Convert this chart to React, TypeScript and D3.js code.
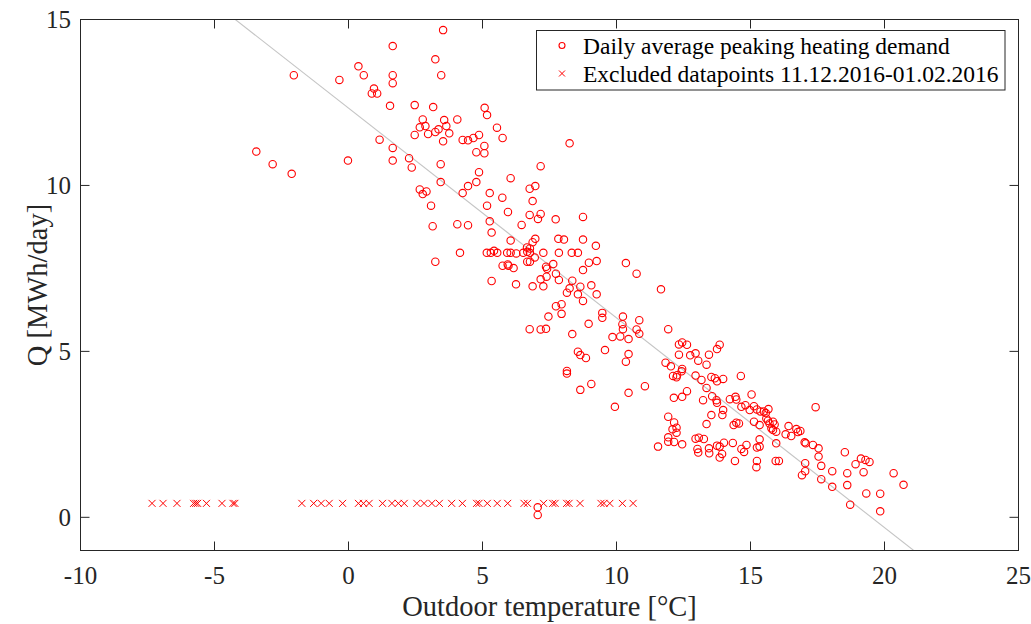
import React from "react";
import * as d3 from "d3";

// Daily average peaking heating demand: [outdoor temperature °C, Q MWh/day]
const peakDemand: [number, number][] = [
  [3.53, 14.68], [1.65, 14.2], [3.24, 13.8], [0.37, 13.59], [-2.04, 13.32], [-0.34, 13.18],
  [0.57, 13.32], [1.65, 13.32], [3.46, 13.32], [1.65, 13.08], [0.95, 12.92], [0.87, 12.77],
  [1.07, 12.77], [1.55, 12.4], [2.47, 12.42], [3.16, 12.36], [2.77, 11.99], [3.57, 11.97],
  [2.66, 11.75], [2.87, 11.79], [2.47, 11.52], [2.97, 11.55], [3.24, 11.61], [3.36, 11.69],
  [3.53, 11.33], [-3.44, 11.02], [-2.83, 10.64], [-2.12, 10.35], [-0.02, 10.75], [1.16, 11.38],
  [1.65, 11.13], [1.65, 10.75], [2.26, 10.82], [2.36, 10.54], [3.44, 10.64], [3.44, 10.1],
  [2.66, 9.88], [2.77, 9.74], [2.91, 9.82],
  [5.08, 12.34], [5.17, 12.12], [3.65, 11.79], [4.06, 11.99], [3.76, 11.57], [4.26, 11.37],
  [4.46, 11.36], [4.66, 11.43], [4.87, 11.52], [5.07, 11.19], [4.77, 11.0], [5.07, 10.97],
  [5.54, 11.74], [5.75, 11.43], [8.25, 11.27], [4.87, 10.4], [7.17, 10.58], [6.05, 10.22],
  [4.46, 9.98], [4.77, 10.1], [4.26, 9.77], [3.08, 9.39], [5.27, 9.77], [5.74, 9.63],
  [6.76, 9.9], [6.97, 9.98], [6.87, 9.53], [5.17, 9.39], [5.95, 9.2], [6.76, 9.11],
  [7.07, 8.99], [7.17, 9.14], [7.73, 8.98], [8.75, 9.05], [3.14, 8.77], [4.06, 8.83],
  [4.46, 8.8], [5.27, 8.92], [5.34, 8.58], [6.46, 8.81], [6.05, 8.34], [6.87, 8.29],
  [6.97, 8.39], [7.83, 8.39], [8.04, 8.37], [8.75, 8.37], [9.23, 8.18], [6.66, 8.13],
  [6.77, 8.1],
  [4.16, 7.97], [5.16, 7.97], [5.31, 7.97], [5.43, 8.03], [5.55, 7.97], [5.92, 7.97],
  [6.05, 7.97], [6.26, 7.95], [6.52, 7.97], [6.67, 8.0], [6.77, 7.97], [7.27, 7.97],
  [7.85, 7.97], [8.33, 7.97], [8.56, 7.97],
  [3.24, 7.7], [5.75, 7.58], [5.94, 7.62], [5.97, 7.58], [6.16, 7.51], [6.67, 7.7],
  [6.77, 7.7], [6.95, 7.83], [7.37, 7.55], [7.41, 7.49], [7.64, 7.63], [7.74, 7.34],
  [7.39, 7.25], [7.17, 7.17], [7.85, 7.15], [8.75, 7.45], [8.97, 7.67], [9.26, 7.72],
  [5.34, 7.12], [6.25, 7.02], [6.87, 6.96], [7.27, 6.96], [8.35, 7.13], [8.25, 6.9],
  [8.15, 6.77], [8.65, 6.95], [8.56, 6.72], [8.75, 6.52], [9.06, 6.99], [9.26, 6.72],
  [7.95, 6.42], [7.74, 6.36], [7.95, 6.13], [7.46, 6.05], [8.96, 5.83], [6.76, 5.67],
  [7.17, 5.66], [7.37, 5.68], [8.35, 5.52], [8.56, 4.99], [8.65, 4.89], [8.86, 4.8],
  [8.15, 4.41], [8.15, 4.33], [9.06, 4.02], [8.65, 3.84],
  [9.47, 6.16], [9.47, 6.01], [10.35, 7.66], [10.75, 7.34], [11.66, 6.87], [10.24, 6.05],
  [10.85, 5.94], [10.22, 5.82], [10.24, 5.67], [10.75, 5.66], [10.85, 5.53], [9.85, 5.43],
  [10.14, 5.45], [10.45, 5.37], [9.57, 5.04], [10.45, 4.92], [10.35, 4.69], [11.06, 3.95],
  [10.45, 3.75], [11.93, 5.67], [12.33, 5.21], [12.45, 5.27], [12.63, 5.2], [12.33, 4.9],
  [12.75, 4.88], [12.95, 4.94], [13.05, 4.72], [13.45, 4.9], [13.36, 4.6], [13.75, 5.07],
  [13.85, 5.2], [11.83, 4.66], [12.03, 4.55], [12.45, 4.47], [12.43, 4.4], [12.11, 4.26],
  [12.24, 4.22], [12.26, 4.28], [12.95, 4.27], [13.17, 4.14], [13.54, 4.23], [13.67, 4.19],
  [13.75, 4.1], [13.98, 4.17], [14.64, 4.26], [13.36, 3.9], [12.63, 3.8], [12.14, 3.6],
  [12.45, 3.63], [13.23, 3.53], [13.57, 3.65], [13.73, 3.53], [14.23, 3.56], [14.44, 3.63],
  [15.04, 3.7],
  [9.94, 3.33], [13.75, 3.45], [14.47, 3.55], [14.66, 3.33], [14.81, 3.38], [14.97, 3.23],
  [15.13, 3.35], [15.24, 3.25], [13.98, 3.23], [13.95, 3.08], [13.54, 3.08], [13.36, 2.81],
  [14.37, 2.78], [14.47, 2.85], [14.57, 2.83], [15.13, 2.88], [11.93, 3.03], [12.15, 2.86],
  [12.09, 2.65], [12.24, 2.7], [12.24, 2.55], [11.93, 2.41], [11.93, 2.28], [12.15, 2.27],
  [11.55, 2.13], [12.45, 2.2], [12.95, 2.37], [13.07, 2.4], [13.26, 2.36], [13.02, 2.06],
  [13.05, 1.95], [13.45, 2.08], [13.46, 1.93], [13.75, 2.16], [13.85, 2.13], [14.01, 2.25],
  [13.94, 1.91], [13.85, 1.8], [14.34, 2.24], [14.66, 2.06], [14.76, 1.97], [14.85, 2.18],
  [14.42, 1.7], [15.24, 2.1], [15.24, 1.7], [15.22, 1.51],
  [17.43, 3.32], [15.37, 3.19], [15.5, 3.19], [15.57, 3.14], [15.67, 3.26], [15.34, 2.78],
  [15.59, 2.98], [15.65, 2.91], [15.71, 2.83], [15.84, 2.88], [15.9, 2.8], [15.78, 2.68],
  [15.84, 2.63], [15.96, 2.58], [16.31, 2.5], [16.42, 2.75], [16.52, 2.45], [16.71, 2.66],
  [16.77, 2.57], [16.86, 2.6], [15.34, 2.35], [15.34, 2.13], [15.96, 2.23], [15.94, 1.7],
  [16.06, 1.7], [17.02, 2.26], [17.06, 2.23], [17.33, 2.18], [17.54, 2.08], [17.54, 1.83],
  [17.64, 1.55], [17.64, 1.15], [17.04, 1.63], [17.04, 1.39], [16.92, 1.27], [18.05, 1.39],
  [18.05, 0.92], [18.52, 1.96], [18.61, 1.33], [18.61, 0.97], [18.72, 0.38], [18.92, 1.6],
  [19.12, 1.77], [19.29, 1.73], [19.44, 1.67], [19.22, 1.36], [19.32, 0.72], [19.84, 0.71],
  [19.84, 0.18], [20.34, 1.33], [20.71, 0.98],
  [7.06, 0.3], [7.06, 0.07],
];

// Days left out of the fit (11.12.2016-01.02.2016)
const excludedTemp = [
  -7.33, -6.92, -6.4, -5.78, -5.7, -5.63, -5.3, -4.72, -4.31, -4.24,
  -1.74, -1.3, -1.02, -0.72, -0.22, 0.37, 0.56, 0.77, 1.27, 1.62, 1.86, 2.08,
  2.55, 2.82, 3.11, 3.39, 3.85, 4.25, 4.78, 4.87, 5.18, 5.55, 5.94, 6.55, 6.68,
  7.28, 7.62, 7.71, 8.14, 8.23, 8.64, 9.42, 9.53, 9.75, 10.22, 10.62,
];
const excludedDemand = [
  0.42, 0.42, 0.42, 0.42, 0.42, 0.42, 0.42, 0.42, 0.42, 0.42,
  0.42, 0.42, 0.42, 0.42, 0.42, 0.42, 0.42, 0.42, 0.42, 0.42, 0.42, 0.42,
  0.42, 0.42, 0.42, 0.42, 0.42, 0.42, 0.42, 0.42, 0.42, 0.42, 0.42, 0.42, 0.42,
  0.42, 0.42, 0.42, 0.42, 0.42, 0.42, 0.42, 0.42, 0.42, 0.42, 0.42,
];

// Linear fit Q = a + b·T
const fitIntercept = 12.33;
const fitSlope = -0.632;

const xTicks = [-10, -5, 0, 5, 10, 15, 20, 25];
const yTicks = [0, 5, 10, 15];
const legendLabels = [
  "Daily average peaking heating demand",
  "Excluded datapoints 11.12.2016-01.02.2016",
];

const W = 1031;
const H = 624;
const left = 80.5;
const right = 1018.5;
const top = 19.5;
const bottom = 550.5;
const FONT = "'Liberation Serif', 'Times New Roman', serif";
const AX = "#262626";
const RED = "#ff0000";

export default function App() {
  const x = d3.scaleLinear().domain([-10, 25]).range([left, right]);
  const y = d3.scaleLinear().domain([-1, 15]).range([bottom, top]);
  const tickLen = 9;

  const fitLine = d3
    .line<number>()
    .x((t) => x(t))
    .y((t) => y(fitIntercept + fitSlope * t));

  const cross = (cx: number, cy: number, s: number) =>
    `M${cx - s},${cy - s}L${cx + s},${cy + s}M${cx - s},${cy + s}L${cx + s},${cy - s}`;

  return (
    <svg
      width={W}
      height={H}
      style={{ position: "absolute", left: 0, top: 0, background: "#fff" }}
      fontFamily={FONT}
    >
      <defs>
        <clipPath id="plot-area">
          <rect x={left} y={top} width={right - left} height={bottom - top} />
        </clipPath>
      </defs>
      <rect x={0} y={0} width={W} height={H} fill="#fff" />

      {/* fitted line */}
      <path
        d={fitLine([-10, 25]) || ""}
        stroke="#c4c4c4"
        strokeWidth={1.1}
        fill="none"
        clipPath="url(#plot-area)"
      />

      {/* demand points */}
      <g fill="none" stroke={RED} strokeWidth={1.1}>
        {peakDemand.map(([t, q], i) => (
          <circle key={i} cx={x(t)} cy={y(q)} r={3.7} />
        ))}
      </g>

      {/* excluded points */}
      <g fill="none" stroke={RED} strokeWidth={1}>
        {excludedTemp.map((t, i) => (
          <path key={i} d={cross(x(t), y(excludedDemand[i]), 3.5)} />
        ))}
      </g>

      {/* axes box */}
      <rect
        x={left}
        y={top}
        width={right - left}
        height={bottom - top}
        fill="none"
        stroke={AX}
        strokeWidth={1}
      />
      <g stroke={AX} strokeWidth={1}>
        {xTicks.map((t) => (
          <g key={`xt${t}`}>
            <line x1={x(t)} x2={x(t)} y1={bottom} y2={bottom - tickLen} />
            <line x1={x(t)} x2={x(t)} y1={top} y2={top + tickLen} />
          </g>
        ))}
        {yTicks.map((v) => (
          <g key={`yt${v}`}>
            <line x1={left} x2={left + tickLen} y1={y(v)} y2={y(v)} />
            <line x1={right} x2={right - tickLen} y1={y(v)} y2={y(v)} />
          </g>
        ))}
      </g>

      {/* tick labels */}
      <g fill={AX} fontSize={25}>
        {xTicks.map((t) => (
          <text key={`xl${t}`} x={x(t)} y={584} textAnchor="middle">
            {t}
          </text>
        ))}
        {yTicks.map((v) => (
          <text key={`yl${v}`} x={71} y={y(v)} dy="0.35em" textAnchor="end">
            {v}
          </text>
        ))}
      </g>

      {/* axis labels */}
      <text
        x={(left + right) / 2}
        y={616}
        textAnchor="middle"
        fontSize={28.5}
        fill={AX}
      >
        Outdoor temperature [°C]
      </text>
      <text
        transform={`translate(47,${(top + bottom) / 2}) rotate(-90)`}
        textAnchor="middle"
        fontSize={28.5}
        fill={AX}
      >
        Q [MWh/day]
      </text>

      {/* legend */}
      <g>
        <rect
          x={536.5}
          y={30.5}
          width={468.5}
          height={59.5}
          fill="#fff"
          stroke={AX}
          strokeWidth={1}
        />
        <circle cx={562} cy={45.5} r={3} fill="none" stroke={RED} strokeWidth={1.1} />
        <path d={cross(562, 73.5, 3)} stroke={RED} strokeWidth={1} fill="none" />
        <text x={583} y={54} fontSize={23.5} fill="#000">
          {legendLabels[0]}
        </text>
        <text x={583} y={82} fontSize={23.5} fill="#000">
          {legendLabels[1]}
        </text>
      </g>
    </svg>
  );
}
